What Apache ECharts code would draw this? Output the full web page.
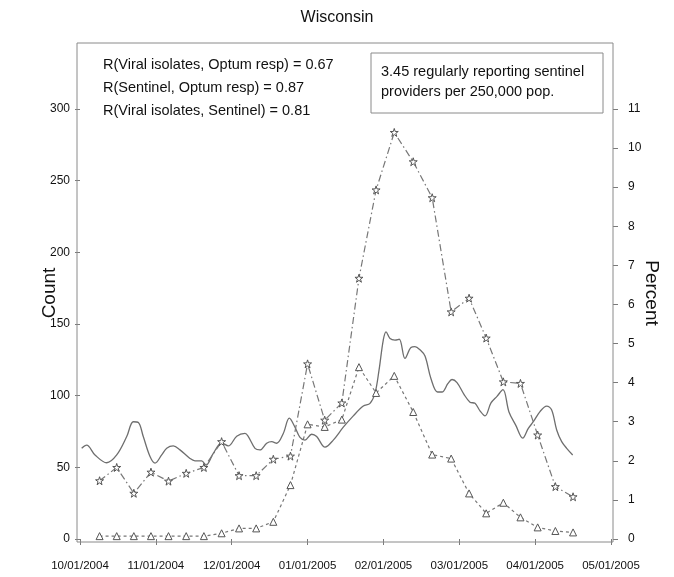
<!DOCTYPE html>
<html>
<head>
<meta charset="utf-8">
<script src="https://cdn.jsdelivr.net/npm/echarts@6/dist/echarts.min.js"></script>
<style>html,body{margin:0;padding:0;background:#fff;}#c{width:674px;height:577px;}</style>
</head>
<body>
<div id="c"></div>
<script>
// ---- data ----
const xTickLabels = ['10/01/2004','11/01/2004','12/01/2004','01/01/2005','02/01/2005','03/01/2005','04/01/2005','05/01/2005'];
const weekDates = ['2004-10-09','2004-10-16','2004-10-23','2004-10-30','2004-11-06','2004-11-13','2004-11-20','2004-11-27',
  '2004-12-04','2004-12-11','2004-12-18','2004-12-25','2005-01-01','2005-01-08','2005-01-15','2005-01-22','2005-01-29',
  '2005-02-05','2005-02-12','2005-02-19','2005-02-26','2005-03-05','2005-03-12','2005-03-19','2005-03-26',
  '2005-04-02','2005-04-09','2005-04-16'];
// Sentinel ILI percent (stars, right axis)
const sentinelPct = [1.49,1.83,1.17,1.71,1.48,1.68,1.83,2.49,1.62,1.62,2.04,2.12,4.48,3.04,3.48,6.67,8.93,10.40,9.65,8.73,5.81,6.16,5.14,4.02,3.98,2.66,1.34,1.08];
// Viral isolates count (triangles, left axis)
const viralCount = [2,2,2,2,2,2,2,4.0,7.4,7.4,12.0,37.6,80.0,78.2,83.3,119.9,101.9,113.8,88.6,58.9,56.1,31.8,17.9,25.3,15.1,8.1,5.6,4.6];
// Optum resp percent (solid line, right axis); position = months since 10/01/2004
const optumPos = [0.022,0.088,0.198,0.352,0.484,0.616,0.703,0.769,0.834,0.923,0.989,1.077,1.143,1.230,1.318,1.450,1.516,1.604,1.661,1.757,1.868,1.955,2.066,2.175,2.219,2.307,2.373,2.461,2.527,2.593,2.680,2.759,2.834,2.900,2.966,3.054,3.120,3.230,3.339,3.471,3.603,3.735,3.823,3.889,3.942,3.998,4.034,4.087,4.152,4.209,4.284,4.363,4.416,4.482,4.548,4.627,4.713,4.772,4.851,4.904,4.970,5.062,5.141,5.207,5.273,5.339,5.418,5.497,5.576,5.655,5.747,5.836,5.910,5.976,6.064,6.152,6.218,6.284,6.350,6.416,6.495];
const optumPct = [2.32,2.40,2.15,1.95,2.15,2.62,3.00,2.98,2.62,2.11,1.94,2.15,2.32,2.38,2.28,2.06,2.00,2.00,1.89,2.19,2.46,2.38,2.63,2.70,2.62,2.32,2.28,2.45,2.49,2.45,2.70,3.09,2.86,2.60,2.53,2.68,2.62,2.35,2.53,2.86,3.15,3.40,3.47,3.73,4.32,5.09,5.30,5.13,5.09,5.11,4.62,4.90,4.92,4.84,4.68,4.10,3.76,3.76,3.98,4.08,4.00,3.70,3.50,3.47,3.28,3.15,3.48,3.65,3.82,3.25,2.90,2.58,2.83,3.00,3.26,3.40,3.30,2.79,2.49,2.32,2.15];
const corrLines = ['R(Viral isolates, Optum resp) = 0.67','R(Sentinel, Optum resp) = 0.87','R(Viral isolates, Sentinel) = 0.81'];
const boxLines = ['3.45 regularly reporting sentinel','providers per 250,000 pop.'];

// month position of a date (equal-width months, as in the source axis)
function monthPos(s){
  const p = s.split('-').map(Number);
  const idx = (p[0]-2004)*12 + (p[1]-10);
  const dim = new Date(p[0], p[1], 0).getDate();
  return idx + (p[2]-1)/dim;
}

const FONT = '"Liberation Sans", Arial, sans-serif';
const GRAY = '#7a7a7a';
const starPath = 'path://M50,2 L61,36 L97,36 L68,57 L79,92 L50,71 L21,92 L32,57 L3,36 L39,36 Z';

const chart = echarts.init(document.getElementById('c'), null, {renderer:'canvas'});
const graphics = [
  {type:'rect', shape:{x:77, y:43, width:536, height:499}, style:{fill:'none', stroke:'#8a8a8a', lineWidth:1}, z:10},
  {type:'text', x:337, y:18, style:{text:'Wisconsin', font:'16px '+FONT, fill:'#111', textAlign:'center', textVerticalAlign:'middle'}},
  {type:'text', x:50, y:293, rotation:Math.PI/2, style:{text:'Count', font:'19px '+FONT, fill:'#111', textAlign:'center', textVerticalAlign:'middle'}},
  {type:'text', x:651, y:293, rotation:-Math.PI/2, style:{text:'Percent', font:'19px '+FONT, fill:'#111', textAlign:'center', textVerticalAlign:'middle'}},
  {type:'rect', shape:{x:371, y:53, width:232, height:60}, style:{fill:'#fff', stroke:'#8a8a8a', lineWidth:1}, z:10}
];
corrLines.forEach((t,i)=>graphics.push({type:'text', x:103, y:65+i*23, z:11, style:{text:t, font:'14.5px '+FONT, fill:'#111', textAlign:'left', textVerticalAlign:'middle'}}));
boxLines.forEach((t,i)=>graphics.push({type:'text', x:381, y:72+i*20, z:11, style:{text:t, font:'14.5px '+FONT, fill:'#111', textAlign:'left', textVerticalAlign:'middle'}}));

chart.setOption({
  animation:false,
  backgroundColor:'#fff',
  grid:{left:80, right:63, top:109, bottom:38, containLabel:false},
  xAxis:{type:'value', min:0, max:7, interval:1, offset:3,
    axisLine:{show:false}, splitLine:{show:false},
    axisTick:{show:true, length:6, lineStyle:{color:GRAY}},
    axisLabel:{margin:18, fontFamily:FONT, fontSize:11.5, color:'#111', formatter:v=>xTickLabels[Math.round(v)]||''}},
  yAxis:[
    {type:'value', min:0, max:300, interval:50, offset:3, position:'left',
      axisLine:{show:false}, splitLine:{show:false},
      axisTick:{show:true, length:5, lineStyle:{color:GRAY}},
      axisLabel:{margin:7, fontFamily:FONT, fontSize:12, color:'#111'}},
    {type:'value', min:0, max:11, interval:1, offset:2, position:'right',
      axisLine:{show:false}, splitLine:{show:false},
      axisTick:{show:true, length:5, lineStyle:{color:GRAY}},
      axisLabel:{margin:15, fontFamily:FONT, fontSize:12, color:'#111'}}
  ],
  graphic:graphics,
  series:[
    {type:'line', name:'Optum resp', yAxisIndex:1, smooth:0.35, showSymbol:false,
      data:optumPos.map((p,i)=>[p, optumPct[i]]),
      lineStyle:{color:'#6e6e6e', width:1.3}},
    {type:'line', name:'Sentinel', yAxisIndex:1, symbol:starPath, symbolSize:8,
      data:weekDates.map((d,i)=>[monthPos(d), sentinelPct[i]]),
      lineStyle:{color:'#777', width:1.2, type:[7,3,1.5,3]},
      itemStyle:{color:'#fff', borderColor:'#555', borderWidth:1}},
    {type:'line', name:'Viral isolates', yAxisIndex:0, symbol:'triangle', symbolSize:7,
      data:weekDates.map((d,i)=>[monthPos(d), viralCount[i]]),
      lineStyle:{color:'#777', width:1.2, type:[3,3]},
      itemStyle:{color:'#fff', borderColor:'#555', borderWidth:1}}
  ]
});
</script>
</body>
</html>
